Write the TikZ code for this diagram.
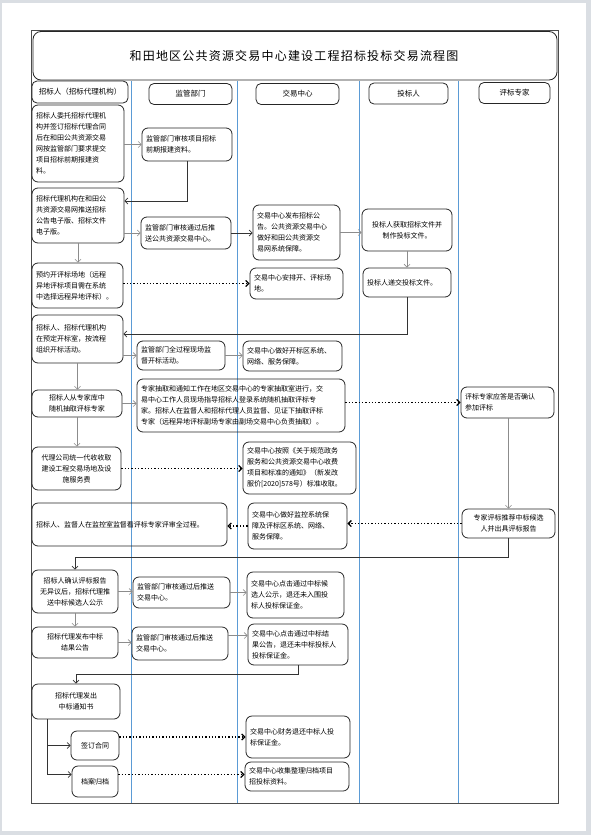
\documentclass[tikz,border=0pt]{standalone}
\usepackage{fontspec}
\setmainfont{Noto Sans CJK SC}
\usepackage{tikz}
\usetikzlibrary{arrows.meta, positioning, calc}
\usepackage{xcolor}
\definecolor{laneblue}{HTML}{5B9BD5}
\definecolor{pagegray}{HTML}{DADEE3}

\tikzset{
  box/.style 2 args={draw=black!85, rounded corners=6pt, line width=0.8pt,
    font=\fontsize{7}{11}\selectfont, inner xsep=4pt, inner ysep=2pt,
    align=left, text width=#1, minimum height=#2},
  head/.style={draw=black!85, rounded corners=5pt, line width=0.8pt,
    font=\fontsize{7.5}{9}\selectfont, align=center},
  flow/.style={draw=black!45, line width=0.6pt, -{Straight Barb[length=3pt,width=6pt]}},
  link/.style={draw=black!80, line width=0.7pt, -{Straight Barb[length=3pt,width=6pt]}},
  dotlink/.style={dotted, line width=1.3pt, -{Straight Barb[length=3pt,width=6pt,line width=1.3pt]}},
  lane/.style={draw=laneblue, line width=0.8pt}
}

\begin{document}
\begin{tikzpicture}[x=1pt, y=-1pt]
  \useasboundingbox (0,0) rectangle (591,835);
  \fill[pagegray] (0,0) rectangle (591,835);
  \fill[white] (2,3) rectangle (586,831);

  % frame, title and lanes
  \draw[black!70, line width=1pt] (31,30.5) rectangle (558,803);
  \draw[black!85, line width=0.8pt, rounded corners=8pt] (33,31.5) rectangle (557,80);
  \node[font=\fontsize{12}{15}\selectfont\addfontfeatures{LetterSpace=10}] (title) at (294,56)
    {和田地区公共资源交易中心建设工程招标投标交易流程图};
  \foreach \xl in {131,237.5,359,458}{
    \draw[lane] (\xl,81) -- (\xl,803);
  }

  % lane headers
  \node[head, minimum width=96pt, minimum height=22pt] (h1) at (80,92) {招标人（招标代理机构）};
  \node[head, minimum width=83pt, minimum height=21pt] (h2) at (190.5,94) {监管部门};
  \node[head, minimum width=83pt, minimum height=21pt] (h3) at (297.5,94) {交易中心};
  \node[head, minimum width=79pt, minimum height=21pt] (h4) at (408.5,93.5) {投标人};
  \node[head, minimum width=71pt, minimum height=21pt] (h5) at (514.5,93) {评标专家};

  % 招标人 lane
  \node[box={84pt}{77pt}] (a1) at (78,143.5)
    {招标人委托招标代理机\\构并签订招标代理合同\\后在和田公共资源交易\\网按监管部门要求提交\\项目招标前期报建资\\料。};
  \node[box={84pt}{55pt}] (a2) at (78,215.5)
    {招标代理机构在和田公\\共资源交易网推送招标\\公告电子版、招标文件\\电子版。};
  \node[box={83pt}{45pt}] (a3) at (77.5,285.5)
    {预约开评标场地（远程\\异地评标项目需在系统\\中选择远程异地评标）。};
  \node[box={83pt}{48pt}] (a4) at (77.5,339)
    {招标人、招标代理机构\\在预定开标室，按流程\\组织开标活动。};
  \node[box={82pt}{27pt}, align=center] (a5) at (77,403.5)
    {招标人从专家库中\\随机抽取评标专家};
  \node[box={81pt}{43pt}, align=center] (a6) at (76.5,468.5)
    {代理公司统一代收收取\\建设工程交易场地及设\\施服务费};
  \node[box={187pt}{43pt}] (a7) at (129.5,524.5)
    {招标人、监督人在监控室监督看评标专家评审全过程。};
  \node[box={78pt}{43pt}, align=center] (a8) at (75,591.5)
    {招标人确认评标报告\\无异议后，招标代理推\\送中标候选人公示};
  \node[box={78pt}{31pt}, align=center] (a9) at (75,642.5)
    {招标代理发布中标\\结果公告};
  \node[box={80pt}{35pt}, align=center] (a10) at (76,701.5)
    {招标代理发出\\中标通知书};
  \node[box={40pt}{29pt}, align=center] (a11) at (95,745.5) {签订合同};
  \node[box={38pt}{31pt}, align=center] (a12) at (95,781.5) {档案归档};

  % 监管部门 lane
  \node[box={82pt}{33pt}] (b1) at (187,144.5)
    {监管部门审核项目招标\\前期报建资料。};
  \node[box={82pt}{32pt}] (b2) at (186,233)
    {监管部门审核通过后推\\送公共资源交易中心。};
  \node[box={80pt}{29pt}] (b3) at (181,355.5)
    {监管部门全过程现场监\\督开标活动。};
  \node[box={200pt}{53pt}] (b4) at (241,405.5)
    {专家抽取和通知工作在地区交易中心的专家抽取室进行，交\\易中心工作人员现场指导招标人登录系统随机抽取评标专\\家。招标人在监督人和招标代理人员监督、见证下抽取评标\\专家（远程异地评标副场专家由副场交易中心负责抽取）。};
  \node[box={89pt}{31pt}] (b5) at (181.5,592.5)
    {监管部门审核通过后推送\\交易中心。};
  \node[box={88pt}{33pt}] (b6) at (180,643.5)
    {监管部门审核通过后推送\\交易中心。};

  % 交易中心 lane
  \node[box={79pt}{55pt}] (c1) at (296.5,232.5)
    {交易中心发布招标公\\告。公共资源交易中心\\做好和田公共资源交\\易网系统保障。};
  \node[box={85pt}{31pt}] (c2) at (296.5,283.5)
    {交易中心安排开、评标场\\地。};
  \node[box={91pt}{30pt}] (c3) at (292.5,356)
    {交易中心做好开标区系统、\\网络、服务保障。};
  \node[box={105pt}{52pt}] (c4) at (299.5,468)
    {交易中心按照《关于规范政务\\服务和公共资源交易中心收费\\项目和标准的通知》（新发改\\服价[2020]578号）标准收取。};
  \node[box={91pt}{46pt}] (c5) at (297.5,526)
    {交易中心做好监控系统保\\障及评标区系统、网络、\\服务保障。};
  \node[box={89pt}{46pt}] (c6) at (295.5,595)
    {交易中心点击通过中标候\\选人公示，退还未入围投\\标人投标保证金。};
  \node[box={92pt}{41pt}] (c7) at (298,644.5)
    {交易中心点击通过中标结\\果公告，退还未中标投标人\\投标保证金。};
  \node[box={96pt}{42pt}] (c8) at (298,737)
    {交易中心财务退还中标人投\\标保证金。};
  \node[box={96pt}{29pt}] (c9) at (297,776.5)
    {交易中心收集整理归档项目\\招投标资料。};

  % 投标人 lane
  \node[box={82pt}{42pt}, align=center] (d1) at (407,230)
    {投标人获取招标文件并\\制作投标文件。};
  \node[box={80pt}{29pt}] (d2) at (407,282.5) {投标人递交投标文件。};

  % 评标专家 lane
  \node[box={85pt}{31pt}] (e1) at (507.5,402.5)
    {评标专家应答是否确认\\参加评标};
  \node[box={85pt}{29pt}, align=center] (e2) at (508.5,523.5)
    {专家评标推荐中标候选\\人并出具评标报告};

  % connectors
  \draw[flow] (a1.east |- b1.west) -- (b1.west);
  \draw[link] (b1.south) |- ($(a2.east)+(0,-14.5)$);
  \draw[flow] (a2.east |- b2.west) -- (b2.west);
  \draw[link] (b2.east) -- (b2.east -| c1.west);
  \draw[flow] (c1.east) -- (c1.east -| d1.west);
  \draw[flow] (a2.south) -- (a2.south |- a3.north);
  \draw[flow] (d1.south) -- (d2.north);
  \draw[dotlink] (a3.east |- c2.west) -- (c2.west);
  \draw[link] (d2.south) |- ($(a4.east)+(0,-5)$);
  \draw[flow] (a4.east |- b3.west) -- (b3.west);
  \draw[flow] (b3.east) -- (b3.east -| c3.west);
  \draw[flow] (a4.south) -- (a4.south |- a5.north);
  \draw[flow] (a5.east) -- (a5.east -| b4.west);
  \draw[dotlink] (b4.east |- e1.west) -- (e1.west);
  \draw[flow] (a5.south) -- (a5.south |- a6.north);
  \draw[dotlink] (a6.east) -- (a6.east -| c4.west);
  \draw[flow] (e1.south -| e2.north) -- (e2.north);
  \draw[dotlink] (e2.west) -- (e2.west -| c5.east);
  \draw[dotlink] (c5.west) -- (c5.west -| a7.east);
  \draw[link] (e2.south) -- ++(0,19) -| (a8.north);
  \draw[flow] (a8.east) -- (a8.east -| b5.west);
  \draw[flow] (b5.east) -- (b5.east -| c6.west);
  \draw[flow] (a8.south) -- (a9.north);
  \draw[flow] (a9.east) -- (a9.east -| b6.west);
  \draw[flow] ($(b6.east)+(0,-8)$) -- ($(b6.east -| c7.west)+(0,-8)$);
  \draw[link] (c7.south) -- ++(0,9) -| (a10.north);
  \coordinate (branch) at (47,719);
  \draw[link] (branch) |- (a11.west);
  \draw[link] (branch) |- ($(a12.west)+(0,-7)$);
  \draw[dotlink] (a11.east |- c8.west) -- (c8.west);
  \draw[dotlink] ($(a12.east)+(0,-7)$) -- ($(a12.east -| c9.west)+(0,-7)$);
\end{tikzpicture}
\end{document}
